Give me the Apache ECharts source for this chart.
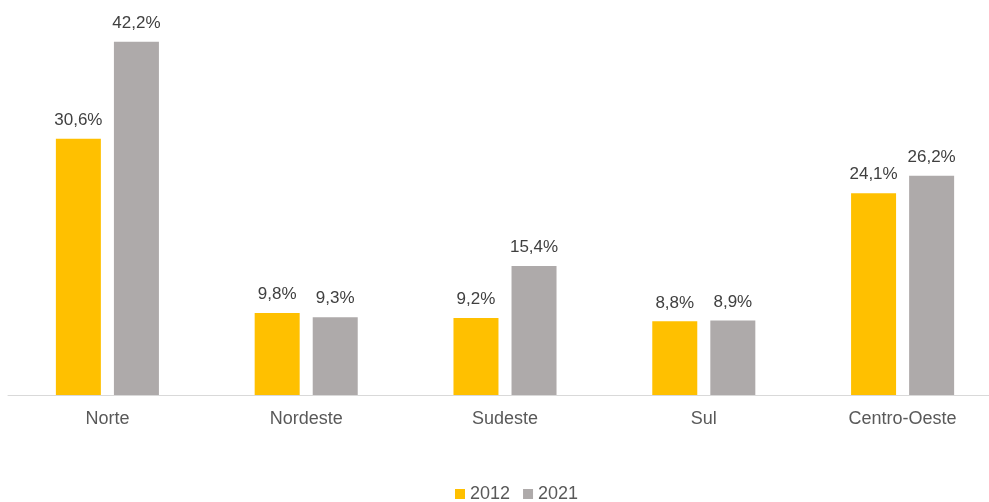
<!DOCTYPE html>
<html><head><meta charset="utf-8">
<script src="https://cdn.jsdelivr.net/npm/echarts@6/dist/echarts.min.js"></script>
<style>html,body{margin:0;padding:0;background:#fff;overflow:hidden;width:989px;height:502px}#c{width:1002px;height:502px}</style>
</head><body><div id="c"></div>
<script>
const categories = ['Norte', 'Nordeste', 'Sudeste', 'Sul', 'Centro-Oeste'];
const values2012 = [30.6, 9.8, 9.2, 8.8, 24.1];
const values2021 = [42.2, 9.3, 15.4, 8.9, 26.2];
const seriesNames = ['2012', '2021'];
const colors = ['#FFC000', '#AEAAAA'];
const fmt = p => p.value.toFixed(1).replace('.', ',') + '%';
const font = 'Liberation Sans, Arial, sans-serif';
const chart = echarts.init(document.getElementById('c'));
chart.setOption({
  animation: false,
  textStyle: { fontFamily: font },
  grid: { left: 8, right: 0, top: 18.3, bottom: 107, containLabel: false },
  legend: {
    top: 485, left: 455, padding: 0, itemWidth: 10, itemHeight: 10, itemGap: 13,
    icon: 'rect',
    textStyle: { fontSize: 18, color: '#595959', fontFamily: font }
  },
  xAxis: {
    type: 'category', data: categories,
    axisLine: { lineStyle: { color: '#D9D9D9', width: 1 } },
    axisTick: { show: false },
    axisLabel: { fontSize: 18, color: '#595959', margin: 15, fontFamily: font }
  },
  yAxis: { type: 'value', min: 0, max: 45, show: false, splitLine: { show: false } },
  series: [
    { name: seriesNames[0], type: 'bar', data: values2012, barWidth: 45, barGap: '29%',
      itemStyle: { color: colors[0] },
      label: { show: true, position: 'top', distance: 10, formatter: fmt, fontSize: 17, color: '#404040', fontFamily: font } },
    { name: seriesNames[1], type: 'bar', data: values2021, barWidth: 45,
      itemStyle: { color: colors[1] },
      label: { show: true, position: 'top', distance: 10, formatter: fmt, fontSize: 17, color: '#404040', fontFamily: font } }
  ]
});
</script></body></html>
